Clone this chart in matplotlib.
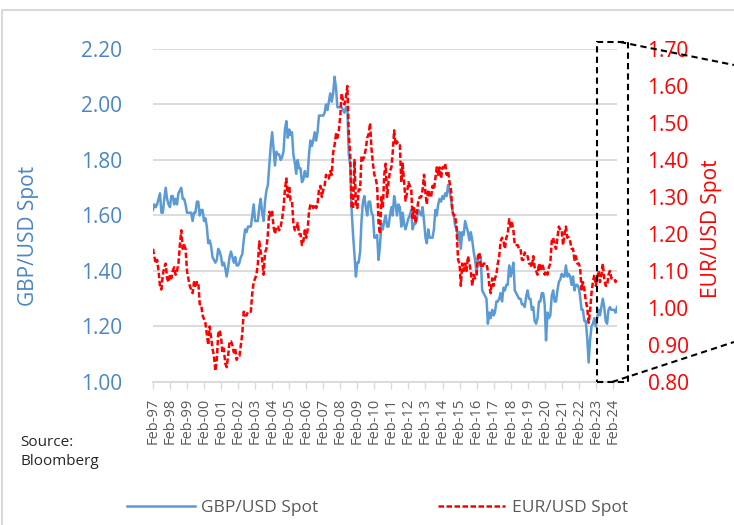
import matplotlib.pyplot as plt
import matplotlib.lines as mlines
import matplotlib.patches as mpatches
import numpy as np
import pandas as pd

plt.rcParams['font.family'] = ['Open Sans', 'DejaVu Sans']

#%% DATA (monthly spot, Feb-97 to May-24)
GBP_spot = [1.62, 1.64, 1.63, 1.64, 1.66, 1.68, 1.61, 1.61, 1.66, 1.70, 1.66,                  #1997
            1.64, 1.63, 1.67, 1.67, 1.64, 1.66, 1.64, 1.68, 1.69, 1.70, 1.66, 1.66,            #1998
            1.64, 1.61, 1.61, 1.61, 1.61, 1.58, 1.61, 1.61, 1.65, 1.65, 1.60, 1.62,            #1999
            1.62, 1.58, 1.59, 1.56, 1.50, 1.51, 1.49, 1.45, 1.44, 1.43, 1.44, 1.48,            #2000
            1.47, 1.45, 1.42, 1.43, 1.41, 1.38, 1.41, 1.45, 1.47, 1.45, 1.43, 1.45,            #2001
            1.42, 1.42, 1.43, 1.45, 1.46, 1.51, 1.55, 1.54, 1.56, 1.56, 1.56, 1.60,            #2002
            1.64, 1.58, 1.58, 1.58, 1.63, 1.66, 1.61, 1.58, 1.65, 1.69, 1.71, 1.78,            #2003
            1.85, 1.90, 1.84, 1.78, 1.83, 1.82, 1.82, 1.80, 1.81, 1.83, 1.91, 1.94,            #2004
            1.88, 1.91, 1.89, 1.90, 1.82, 1.79, 1.75, 1.80, 1.77, 1.77, 1.72, 1.73,            #2005
            1.76, 1.74, 1.74, 1.82, 1.87, 1.85, 1.87, 1.90, 1.87, 1.90, 1.96, 1.96,            #2006
            1.96, 1.96, 1.97, 2.00, 1.98, 2.01, 2.04, 2.01, 2.04, 2.10, 2.06, 1.99,            #2007
            1.99, 1.99, 1.99, 1.98, 1.97, 1.99, 1.99, 1.82, 1.78, 1.62, 1.53, 1.46,            #2008
            1.38, 1.43, 1.43, 1.47, 1.58, 1.65, 1.67, 1.63, 1.60, 1.65, 1.65, 1.61,            #2009
            1.60, 1.52, 1.52, 1.53, 1.44, 1.49, 1.57, 1.55, 1.58, 1.60, 1.56, 1.56,            #2010
            1.60, 1.63, 1.60, 1.67, 1.64, 1.60, 1.64, 1.63, 1.56, 1.61, 1.57, 1.55,            #2011
            1.57, 1.59, 1.60, 1.62, 1.55, 1.57, 1.57, 1.59, 1.62, 1.61, 1.60, 1.63,            #2012
            1.58, 1.52, 1.50, 1.55, 1.52, 1.52, 1.52, 1.55, 1.62, 1.60, 1.64, 1.66,            #2013
            1.65, 1.67, 1.66, 1.68, 1.67, 1.71, 1.69, 1.66, 1.62, 1.60, 1.56, 1.56,            #2014
            1.51, 1.54, 1.48, 1.54, 1.53, 1.58, 1.56, 1.54, 1.51, 1.54, 1.51, 1.47,            #2015
            1.44, 1.39, 1.44, 1.46, 1.45, 1.33, 1.32, 1.31, 1.30, 1.21, 1.25, 1.23,            #2016
            1.26, 1.24, 1.25, 1.29, 1.29, 1.30, 1.32, 1.29, 1.34, 1.33, 1.35, 1.35,            #2017
            1.42, 1.38, 1.40, 1.43, 1.33, 1.32, 1.31, 1.30, 1.30, 1.28, 1.28, 1.27,            #2018
            1.31, 1.33, 1.30, 1.30, 1.26, 1.27, 1.22, 1.21, 1.23, 1.29, 1.29, 1.32,            #2019
            1.32, 1.28, 1.15, 1.25, 1.23, 1.24, 1.31, 1.33, 1.29, 1.29, 1.33, 1.36,            #2020
            1.37, 1.39, 1.38, 1.38, 1.42, 1.38, 1.39, 1.38, 1.35, 1.38, 1.33, 1.35,            #2021
            1.35, 1.34, 1.31, 1.26, 1.26, 1.22, 1.22, 1.16, 1.07, 1.15, 1.20, 1.21,            #2022
            1.23, 1.20, 1.23, 1.26, 1.24, 1.27, 1.30, 1.27, 1.22, 1.21, 1.26, 1.27,            #2023
            1.26, 1.26, 1.26, 1.25, 1.27]                                                      #2024

EUR_spot = [1.16, 1.14, 1.12, 1.13, 1.10, 1.06, 1.05, 1.09, 1.11, 1.12, 1.08,                  #1997
            1.07, 1.09, 1.08, 1.10, 1.11, 1.09, 1.10, 1.12, 1.17, 1.21, 1.16, 1.17,            #1998
            1.16, 1.10, 1.08, 1.06, 1.05, 1.04, 1.07, 1.06, 1.07, 1.07, 1.01, 1.01,            #1999
            0.98, 0.97, 0.96, 0.93, 0.90, 0.95, 0.92, 0.89, 0.87, 0.83, 0.86, 0.93,            #2000
            0.94, 0.92, 0.88, 0.89, 0.85, 0.84, 0.87, 0.91, 0.91, 0.90, 0.88, 0.89,            #2001
            0.86, 0.87, 0.87, 0.90, 0.93, 0.99, 0.98, 0.98, 0.99, 0.99, 0.99, 1.04,            #2002
            1.07, 1.08, 1.09, 1.12, 1.18, 1.15, 1.13, 1.09, 1.15, 1.16, 1.20, 1.26,            #2003
            1.25, 1.26, 1.22, 1.20, 1.22, 1.22, 1.21, 1.22, 1.24, 1.27, 1.32, 1.35,            #2004
            1.30, 1.33, 1.29, 1.29, 1.23, 1.21, 1.21, 1.23, 1.20, 1.20, 1.17, 1.18,            #2005
            1.21, 1.19, 1.21, 1.26, 1.28, 1.28, 1.27, 1.28, 1.27, 1.28, 1.32, 1.33,            #2006
            1.30, 1.32, 1.33, 1.36, 1.35, 1.35, 1.37, 1.36, 1.42, 1.44, 1.47, 1.46,            #2007
            1.48, 1.52, 1.58, 1.56, 1.55, 1.57, 1.60, 1.47, 1.41, 1.27, 1.27, 1.40,            #2008
            1.28, 1.27, 1.32, 1.32, 1.41, 1.40, 1.41, 1.43, 1.46, 1.47, 1.50, 1.43,            #2009
            1.39, 1.36, 1.35, 1.33, 1.23, 1.20, 1.30, 1.27, 1.36, 1.39, 1.30, 1.34,            #2010
            1.37, 1.38, 1.42, 1.48, 1.44, 1.45, 1.44, 1.44, 1.34, 1.39, 1.34, 1.29,            #2011
            1.31, 1.34, 1.33, 1.32, 1.24, 1.27, 1.23, 1.26, 1.29, 1.30, 1.30, 1.32,            #2012
            1.36, 1.31, 1.28, 1.32, 1.30, 1.30, 1.33, 1.32, 1.35, 1.38, 1.36, 1.38,            #2013
            1.35, 1.38, 1.38, 1.39, 1.36, 1.37, 1.34, 1.32, 1.26, 1.25, 1.25, 1.21,            #2014
            1.13, 1.12, 1.06, 1.12, 1.10, 1.12, 1.10, 1.14, 1.12, 1.10, 1.06, 1.09,            #2015
            1.08, 1.09, 1.14, 1.15, 1.11, 1.11, 1.12, 1.12, 1.12, 1.10, 1.06, 1.04,            #2016
            1.08, 1.06, 1.08, 1.09, 1.12, 1.14, 1.18, 1.19, 1.18, 1.16, 1.19, 1.20,            #2017
            1.24, 1.22, 1.23, 1.21, 1.17, 1.17, 1.17, 1.16, 1.16, 1.13, 1.13, 1.15,            #2018
            1.14, 1.14, 1.12, 1.12, 1.11, 1.14, 1.11, 1.10, 1.09, 1.12, 1.10, 1.12,            #2019
            1.11, 1.09, 1.10, 1.09, 1.11, 1.12, 1.18, 1.19, 1.17, 1.16, 1.19, 1.22,            #2020
            1.21, 1.21, 1.17, 1.20, 1.22, 1.19, 1.19, 1.18, 1.16, 1.16, 1.13, 1.14,            #2021
            1.12, 1.12, 1.11, 1.05, 1.07, 1.05, 1.02, 1.00, 0.96, 0.99, 1.04, 1.07,            #2022
            1.09, 1.06, 1.08, 1.10, 1.07, 1.09, 1.12, 1.08, 1.06, 1.06, 1.09, 1.10,            #2023
            1.08, 1.08, 1.08, 1.07, 1.08]                                                      #2024

GBP_ticks = [1.00, 1.20, 1.40, 1.60, 1.80, 2.00, 2.20]
EUR_ticks = [0.80, 0.90, 1.00, 1.10, 1.20, 1.30, 1.40, 1.50, 1.60, 1.70]

# Colours
blue = '#5B9BD5'
blue_text = '#4A86C6'
red = '#FF0000'
grey = '#D9D9D9'

#%% PLOT
#Parameters of the graph
periods = pd.date_range('1997-02-01', periods=len(GBP_spot), freq='MS')         # one point per month
x_legend = pd.date_range('1997-02-01', '2024-02-01', freq='12MS')              # Feb of every year
fig, ax = plt.subplots(figsize=(7.34, 5.25))
fig.subplots_adjust(left=0.2084, right=0.8406, bottom=0.2724, top=0.9067)

#GBP/USD on the left axis
line1, = ax.plot(periods, GBP_spot, color=blue, linewidth=1.8, label='GBP/USD Spot')

#EUR/USD on the right axis
ax2 = ax.twinx()
line2, = ax2.plot(periods, EUR_spot, color=red, linewidth=1.8, dashes=(2.2, 1.0),
                  label='EUR/USD Spot')

# Text for label and axys
ax.set_xlim(periods[0], periods[-1])
ax.set_ylim(1.0, 2.2)
ax.set_yticks(GBP_ticks)
ax.set_yticklabels(['%.2f' % t for t in GBP_ticks], color=blue_text, fontsize=15)
ax.set_ylabel('GBP/USD Spot', color=blue_text, fontsize=15)
ax.yaxis.set_label_coords(-0.246, 0.44)
ax.set_xticks(x_legend)
ax.set_xticklabels([d.strftime('%b-%y') for d in x_legend], rotation=90,
                   color='#595959', fontsize=10.5)
ax.tick_params(axis='x', length=5, width=1, color=grey, pad=6)
ax.tick_params(axis='y', length=0, pad=22)

ax2.set_ylim(0.8, 1.7)
ax2.set_yticks(EUR_ticks)
ax2.set_yticklabels(['%.2f' % t for t in EUR_ticks], color=red, fontsize=15)
ax2.set_ylabel('EUR/USD Spot', color=red, fontsize=15, rotation=90)
ax2.yaxis.set_label_coords(1.182, 0.46)
ax2.tick_params(axis='y', length=0, pad=22)

#Grid and spines
ax.grid(axis='y', color=grey, linewidth=1.3)
ax.set_axisbelow(True)
for sp in ['top', 'left', 'right']:
    ax.spines[sp].set_visible(False)
    ax2.spines[sp].set_visible(False)
ax.spines['bottom'].set_color(grey)
ax.spines['bottom'].set_linewidth(1.3)
ax2.spines['bottom'].set_visible(False)

#Legend at the bottom
fig.legend(handles=[line1, line2], loc='center', bbox_to_anchor=(0.514, 0.032), ncol=2,
           frameon=False, fontsize=12.5, labelcolor='#595959', handlelength=3.9,
           handletextpad=0.35, columnspacing=6.9)

#Source
fig.text(20 / 734, 1 - 435 / 525, 'Source:\nBloomberg', fontsize=11, color='#262626',
         va='top', ha='left', linespacing=1.35)

#Chart frame
fig.add_artist(mlines.Line2D([2 / 734, 2 / 734, 1.0], [0.0, 1 - 10 / 525, 1 - 10 / 525],
                             transform=fig.transFigure, color=grey, linewidth=1.5))

#Zoom box on the last months
fig.add_artist(mpatches.Rectangle((597 / 734, 1 - 382 / 525), 31 / 734, 340 / 525,
                                  transform=fig.transFigure, fill=False, edgecolor='black',
                                  linewidth=1.5, linestyle=(0, (3, 2)), zorder=10))
fig.add_artist(mlines.Line2D([620 / 734, 1.0], [1 - 42 / 525, 1 - 65 / 525],
                             transform=fig.transFigure, color='black', linewidth=1.5,
                             linestyle=(0, (3, 2)), zorder=10))
fig.add_artist(mlines.Line2D([612 / 734, 1.0], [1 - 382 / 525, 1 - 342 / 525],
                             transform=fig.transFigure, color='black', linewidth=1.5,
                             linestyle=(0, (3, 2)), zorder=10))

plt.savefig('out.png', dpi=100)
